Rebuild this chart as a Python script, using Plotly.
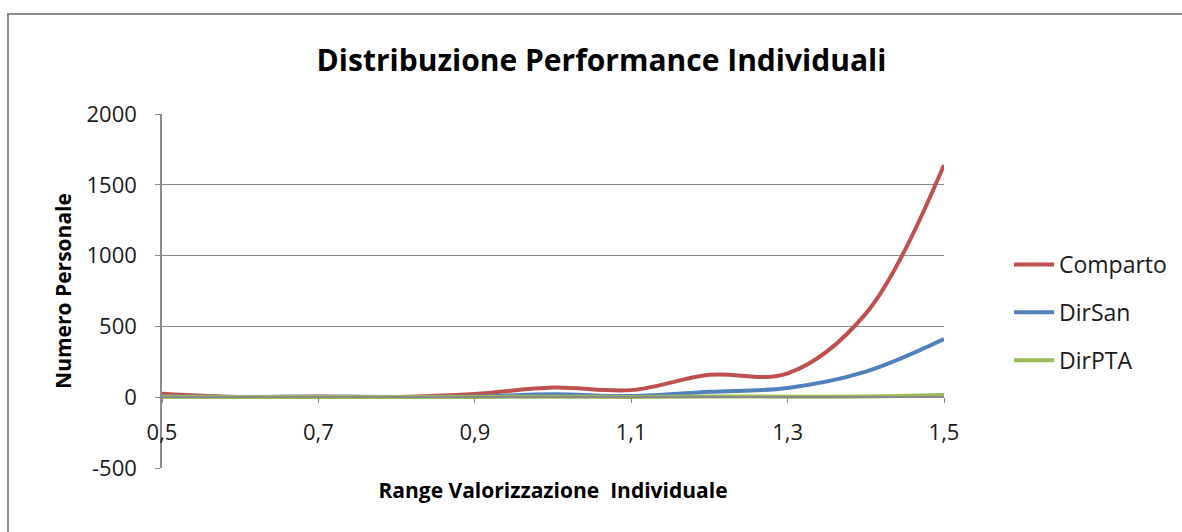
import plotly.graph_objects as go

x_vals = [0.5, 0.6, 0.7, 0.8, 0.9, 1.0, 1.1, 1.2, 1.3, 1.4, 1.5]
comparto = [25, 2, 5, 2, 22, 68, 50, 158, 168, 590, 1640]
dirsan = [5, 2, 3, 2, 5, 20, 8, 38, 65, 180, 410]
dirpta = [3, 1, 2, 1, 2, 4, 2, 5, 4, 5, 15]

x_ticks = [0.5, 0.7, 0.9, 1.1, 1.3, 1.5]
x_ticktext = ["0,5", "0,7", "0,9", "1,1", "1,3", "1,5"]
y_ticks = [-500, 0, 500, 1000, 1500, 2000]
y_ticktext = ["-500", "0", "500", "1000", "1500", "2000"]

series = [
    ("Comparto", comparto, "#C0504D"),
    ("DirSan", dirsan, "#4F81BD"),
    ("DirPTA", dirpta, "#9BBB59"),
]

FONT = "Open Sans, Calibri, Arial, sans-serif"

fig = go.Figure()
for name, vals, color in series:
    fig.add_trace(go.Scatter(
        x=x_vals, y=vals, name=name, mode="lines",
        line=dict(color=color, width=4, shape="spline", smoothing=1.0),
        legendgroup=name,
    ))

W, H = 1182, 532
ml, mr, mt, mb = 162, 238, 114, 64
pw, ph = W - ml - mr, H - mt - mb

def px_to_paper_x(px):
    return (px - ml) / pw

def px_to_paper_y(py):
    return (H - mb - py) / ph

fig.update_layout(
    width=W, height=H,
    margin=dict(l=ml, r=mr, t=mt, b=mb, autoexpand=False),
    paper_bgcolor="white", plot_bgcolor="white",
    font=dict(family=FONT, color="#1a1a1a", size=22),
    title=dict(
        text="<b>Distribuzione Performance Individuali</b>",
        font=dict(family=FONT, size=30, color="#000000"),
        x=(310 + 893) / 2 / W, xanchor="center", xref="container",
        y=1 - 60 / H, yanchor="middle", yref="container",
    ),
    showlegend=True,
    legend=dict(
        x=px_to_paper_x(1009), xanchor="left",
        y=px_to_paper_y(243), yanchor="top",
        font=dict(family=FONT, size=23, color="#1a1a1a"),
        tracegroupgap=15,
        bgcolor="rgba(0,0,0,0)",
        itemwidth=40,
    ),
    xaxis=dict(
        range=[0.5, 1.5],
        tickvals=x_ticks, ticktext=x_ticktext,
        showgrid=False, zeroline=False,
        showline=True, linecolor="#8a8a8a", linewidth=1.5,
        ticks="outside", ticklen=5, tickcolor="#8a8a8a",
        anchor="free", position=0.2,
        ticklabelstandoff=11,
        automargin=False,
        tickfont=dict(size=22, color="#1a1a1a"),
        title=dict(text="<b>Range Valorizzazione  Individuale</b>",
                   font=dict(size=21, color="#000000"), standoff=37),
    ),
    yaxis=dict(
        range=[-500, 2000],
        tickvals=y_ticks, ticktext=y_ticktext,
        showgrid=True, gridcolor="#8a8a8a", gridwidth=1.2,
        zeroline=False,
        showline=True, linecolor="#8a8a8a", linewidth=1.5,
        ticks="outside", ticklen=5, tickcolor="#8a8a8a",
        ticklabelstandoff=14,
        automargin=False,
        tickfont=dict(size=22, color="#1a1a1a"),
        title=dict(text="<b>Numero Personale</b>",
                   font=dict(size=21, color="#000000"), standoff=9),
    ),
    shapes=[dict(
        type="rect", xref="paper", yref="paper",
        x0=px_to_paper_x(8), x1=px_to_paper_x(1200),
        y0=px_to_paper_y(560), y1=px_to_paper_y(14),
        line=dict(color="#8c8c8c", width=2), fillcolor="rgba(0,0,0,0)",
        layer="below",
    )],
)

fig.write_html(
    "out.html",
    config={"displayModeBar": False},
    post_script="document.body.style.margin='0';document.body.style.padding='0';",
)
